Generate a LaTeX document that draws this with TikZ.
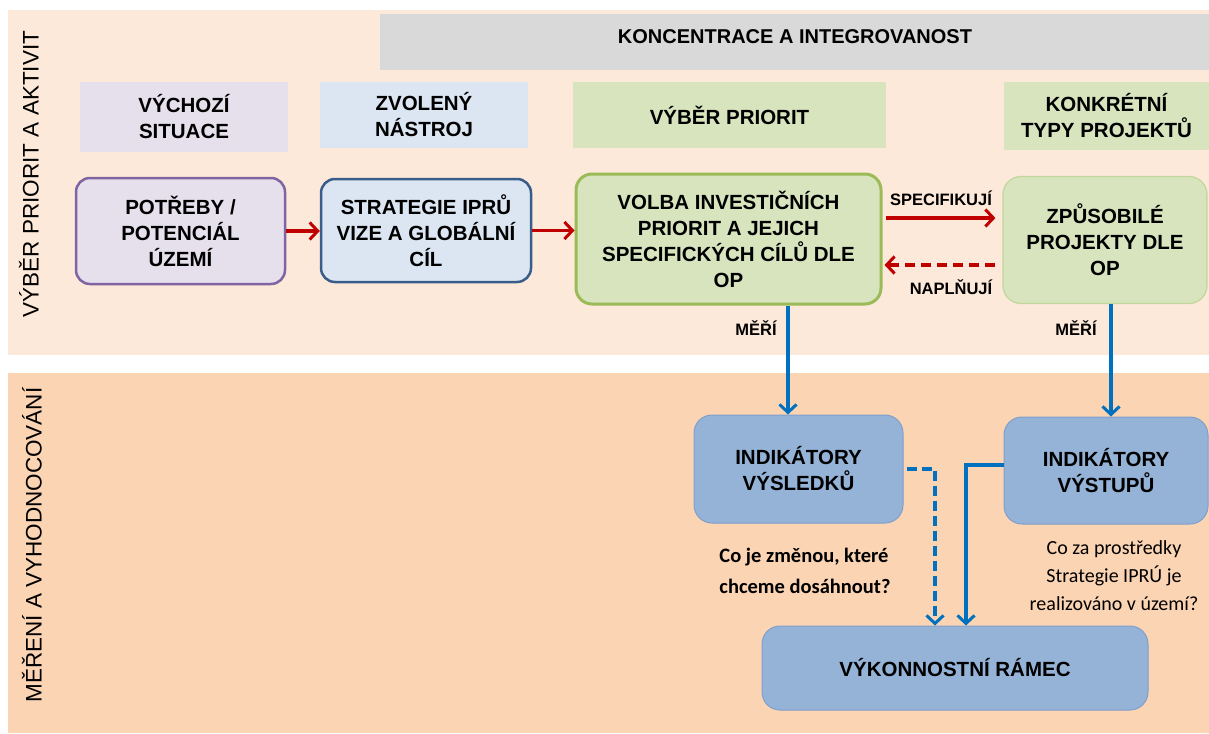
\documentclass[tikz,border=0pt]{standalone}
\usepackage{fontspec}
\setmainfont{Liberation Sans}
\newfontfamily\calib{Carlito}
\usetikzlibrary{arrows.meta}
\definecolor{bgtop}{HTML}{FDE9D9}
\definecolor{bgbot}{HTML}{FBD4B4}
\definecolor{hdrgray}{HTML}{D9D9D9}
\definecolor{lav}{HTML}{E5E0EC}
\definecolor{purp}{HTML}{8064A2}
\definecolor{lblue}{HTML}{DCE6F2}
\definecolor{dblue}{HTML}{385D8A}
\definecolor{lgreen}{HTML}{D7E4BD}
\definecolor{mgreen}{HTML}{9BBB59}
\definecolor{pgreen}{HTML}{C3D69B}
\definecolor{boxblue}{HTML}{95B3D7}
\definecolor{boxblueb}{HTML}{7F9FCB}
\definecolor{arrred}{HTML}{C00000}
\definecolor{arrblue}{HTML}{0070C0}
\tikzset{
  bigfont/.style={font=\fontsize{20.5}{26}\selectfont\bfseries},
  hdrbox/.style={bigfont, align=center, inner sep=0pt},
  mainbox/.style={bigfont, align=center, rounded corners=14pt, inner sep=0pt},
  bluebox/.style={mainbox, fill=boxblue, draw=boxblueb, line width=1pt, rounded corners=18pt},
  redarr/.style={draw=arrred, line width=3.2pt, -{Straight Barb[length=8pt,width=17pt,line width=3pt]}},
  bluearr/.style={draw=arrblue, line width=3.2pt, -{Straight Barb[length=8pt,width=17pt,line width=3pt]}},
  smalllab/.style={font=\fontsize{16.5}{20}\selectfont\bfseries, inner sep=0pt},
  sidelab/.style={font=\fontsize{22.5}{26}\selectfont, rotate=90, inner sep=0pt},
}
\begin{document}
\begin{tikzpicture}[x=1pt,y=-1pt]
\useasboundingbox (0,0) rectangle (1209,733);
% bands
\fill[bgtop] (8,10) rectangle (1209,355);
\fill[bgbot] (8,373) rectangle (1209,733);
\fill[hdrgray] (380,14) rectangle (1209,70);
\node[hdrbox, font=\fontsize{20}{24}\selectfont\bfseries] (konc) at (795,37) {KONCENTRACE A INTEGROVANOST};
% side labels
\node[sidelab] (lab1) at (29,174) {VÝBĚR PRIORIT A AKTIVIT};
\node[sidelab] (lab2) at (32,545) {MĚŘENÍ A VYHODNOCOVÁNÍ};
% header boxes
\node[hdrbox, fill=lav, minimum width=208pt, minimum height=70pt] (h1) at (184,117) {VÝCHOZÍ\\SITUACE};
\node[hdrbox, fill=lblue, minimum width=208pt, minimum height=66pt] (h2) at (424,115) {ZVOLENÝ\\NÁSTROJ};
\node[hdrbox, fill=lgreen, minimum width=313pt, minimum height=66pt] (h3) at (729.5,115) {VÝBĚR PRIORIT};
\node[hdrbox, fill=lgreen, minimum width=205pt, minimum height=68pt] (h4) at (1106.5,116) {KONKRÉTNÍ\\TYPY PROJEKTŮ};
% main boxes
\node[mainbox, fill=lav, draw=purp, line width=2.5pt, minimum width=209pt, minimum height=106pt] (pot) at (180.5,231) {POTŘEBY /\\POTENCIÁL\\ÚZEMÍ};
\node[mainbox, fill=lblue, draw=dblue, line width=2.5pt, minimum width=210pt, minimum height=103pt] (str) at (426,230.5) {STRATEGIE IPRŮ\\VIZE A GLOBÁLNÍ\\CÍL};
\node[mainbox, fill=lgreen, draw=mgreen, line width=3pt, minimum width=305pt, minimum height=130pt, rounded corners=16pt] (vol) at (728.5,239) {VOLBA INVESTIČNÍCH\\PRIORIT A JEJICH\\SPECIFICKÝCH CÍLŮ DLE\\OP};
\node[mainbox, fill=lgreen, draw=pgreen, line width=1.2pt, minimum width=204pt, minimum height=127pt, rounded corners=18pt] (zpu) at (1105,240) {ZPŮSOBILÉ\\PROJEKTY DLE\\OP};
% lower boxes
\node[bluebox, minimum width=209pt, minimum height=108pt] (ivs) at (798.5,469) {INDIKÁTORY\\VÝSLEDKŮ};
\node[bluebox, minimum width=204pt, minimum height=107pt] (ivt) at (1106,470.5) {INDIKÁTORY\\VÝSTUPŮ};
\node[bluebox, minimum width=386pt, minimum height=84pt] (ram) at (955,668) {VÝKONNOSTNÍ RÁMEC};
% question texts
\node[font=\calib\fontsize{20.5}{31}\selectfont\bfseries, align=left, inner sep=0pt] (q1) at (805,571) {Co je změnou, které\\chceme dosáhnout?};
\node[font=\calib\fontsize{20}{28}\selectfont, align=center, inner sep=0pt] (q2) at (1114,576) {Co za prostředky\\Strategie IPRÚ je\\realizováno v území?};
% helper coordinates
\coordinate (ya) at (0,218);
\coordinate (yb) at (0,265);
\coordinate (xa) at (788,0);
\coordinate (xb) at (1111,0);
\coordinate (xc) at (935,0);
\coordinate (xd) at (966,0);
% red arrows
\draw[redarr] (pot.east) -- (pot.east -| str.west);
\draw[redarr] (str.east) -- (str.east -| vol.west);
\draw[redarr, shorten <=3pt, shorten >=7pt] (vol.east |- ya) -- (zpu.west |- ya);
\draw[redarr, dash pattern=on 10pt off 6pt, shorten <=7pt, shorten >=2pt] (zpu.west |- yb) -- (vol.east |- yb);
\node[smalllab] (spec) at (941,198) {SPECIFIKUJÍ};
\node[smalllab] (napl) at (951,287) {NAPLŇUJÍ};
% blue arrows
\draw[bluearr] (vol.south -| xa) -- (ivs.north -| xa);
\draw[bluearr] (zpu.south -| xb) -- (ivt.north -| xb);
\node[smalllab] (m1) at (756,328) {MĚŘÍ};
\node[smalllab] (m2) at (1076,328) {MĚŘÍ};
\draw[bluearr, dash pattern=on 10pt off 5pt, shorten <=3pt] (ivs.east) -| (ram.north -| xc);
\draw[bluearr] (ivt.west |- 0,465) -| (ram.north -| xd);
\end{tikzpicture}
\end{document}
